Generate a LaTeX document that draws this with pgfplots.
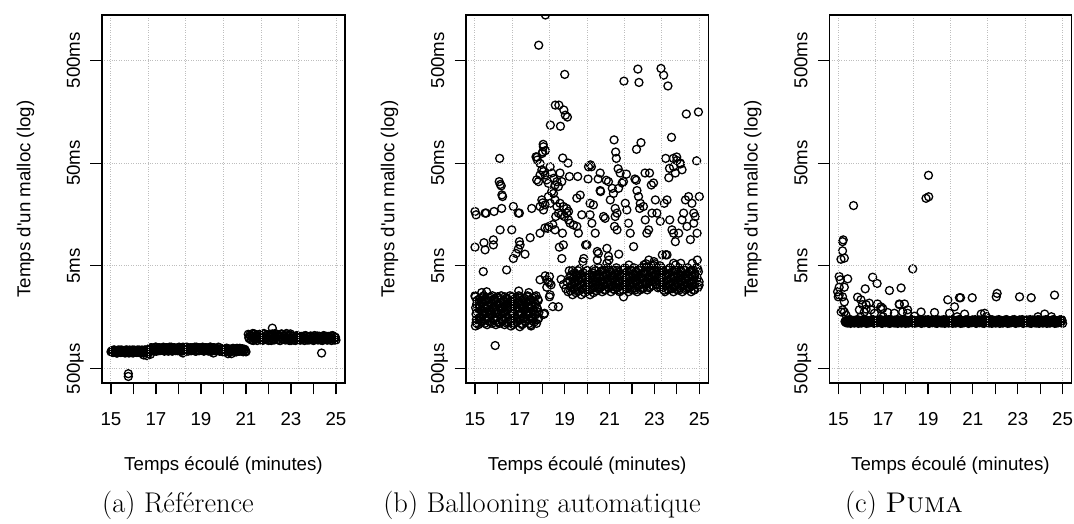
\documentclass[border=0pt]{standalone}
\usepackage{fontspec}
\usepackage{pgfplots}
\pgfplotsset{compat=1.18}
\newfontfamily\axff{Liberation Sans}
\newcommand\axfont{\axff\fontsize{18.7}{22}\selectfont}
\newcommand\capfont{\rmfamily\fontsize{28.5}{32}\selectfont}
\definecolor{rlg}{HTML}{BEBEBE}
\pgfplotsset{rpanel/.style={
 scale only axis, height=368pt,
 xmin=14.6, xmax=25.4,
 ymin=0.363, ymax=1377,
 xtick={15,16,...,25},
 xticklabels={15,,17,,19,,21,,23,,25},
 ytick={0.5,5,50,500},
 yticklabels={500µs,5ms,50ms,500ms},
 minor xtick={15,16.6667,18.3333,20,21.6667,23.3333,25},
 yminorticks=false,
 xminorgrids=true, ymajorgrids=true, xmajorgrids=false,
 minor tick length=0pt,
 major grid style={rlg, dotted, line width=1pt},
 minor grid style={rlg, dotted, line width=1pt},
 tick align=outside, tick pos=left,
 major tick length=11.5pt,
 tick style={black, line width=1.1pt},
 axis line style={line width=1.1pt},
 axis on top,
 clip marker paths=true,
 tick label style={font=\axfont},
 xticklabel style={anchor=base, inner sep=0pt},
 xticklabel shift=31.2pt,
 yticklabel style={rotate=90, anchor=base, inner sep=0pt},
 yticklabel shift=10.5pt,
 xlabel={Temps écoulé (minutes)},
 ylabel={Temps d'un malloc (log)},
 label style={font=\axfont, inner sep=0pt},
 xlabel style={at={([yshift=-87pt]axis description cs:0.5,0)}, anchor=base},
 ylabel style={at={([xshift=-71.7pt]axis description cs:0,0.5)}, anchor=base},
},
rmark/.style={only marks, draw=black, fill=none, mark=o, mark size=4.0pt, mark options={line width=1.3pt, draw=black, fill=none, solid}}
}
\begin{document}
\begin{tikzpicture}
\path[use as bounding box] (0,0) rectangle (1074pt,523pt);
% ---------------- (a) Reference ----------------
\begin{semilogyaxis}[rpanel, width=243pt, at={(102pt,140pt)}, anchor=south west]
\addplot[rmark] coordinates {
(15.00,0.73)(15.05,0.75)(15.10,0.72)(15.15,0.76)(15.20,0.74)(15.25,0.71)(15.30,0.75)(15.35,0.73)(15.40,0.76)(15.45,0.72)(15.50,0.74)
(15.55,0.73)(15.60,0.75)(15.65,0.72)(15.70,0.76)(15.75,0.74)(15.80,0.71)(15.85,0.75)(15.90,0.73)(15.95,0.76)(16.00,0.72)(16.05,0.74)
(16.10,0.73)(16.15,0.75)(16.20,0.72)(16.25,0.76)(16.30,0.74)(16.35,0.71)(16.40,0.75)(16.45,0.73)(16.50,0.76)(16.55,0.72)(16.60,0.74)(16.65,0.73)
(16.70,0.78)(16.75,0.75)(16.80,0.80)(16.85,0.76)(16.90,0.79)(16.95,0.74)(17.00,0.81)(17.05,0.77)(17.10,0.75)(17.15,0.80)(17.20,0.78)(17.25,0.76)
(17.30,0.78)(17.35,0.75)(17.40,0.80)(17.45,0.76)(17.50,0.79)(17.55,0.74)(17.60,0.81)(17.65,0.77)(17.70,0.75)(17.75,0.80)(17.80,0.78)(17.85,0.76)
(17.90,0.78)(17.95,0.75)(18.00,0.80)(18.05,0.76)(18.10,0.79)(18.15,0.74)(18.20,0.81)(18.25,0.77)(18.30,0.75)(18.35,0.80)(18.40,0.78)(18.45,0.76)
(18.50,0.78)(18.55,0.75)(18.60,0.80)(18.65,0.76)(18.70,0.79)(18.75,0.74)(18.80,0.81)(18.85,0.77)(18.90,0.75)(18.95,0.80)(19.00,0.78)(19.05,0.76)
(19.10,0.78)(19.15,0.75)(19.20,0.80)(19.25,0.76)(19.30,0.79)(19.35,0.74)(19.40,0.81)(19.45,0.77)(19.50,0.75)(19.55,0.80)(19.60,0.78)(19.65,0.76)
(19.70,0.78)(19.75,0.75)(19.80,0.80)
(19.85,0.76)(19.90,0.74)(19.95,0.78)(20.00,0.75)(20.05,0.77)(20.10,0.73)(20.15,0.79)(20.20,0.75)(20.25,0.74)
(20.30,0.76)(20.35,0.74)(20.40,0.78)(20.45,0.75)(20.50,0.77)(20.55,0.73)(20.60,0.79)(20.65,0.75)(20.70,0.74)
(20.75,0.76)(20.80,0.74)(20.85,0.78)(20.90,0.75)(20.95,0.77)(21.00,0.73)
(16.45,0.68)(16.60,0.67)(16.75,0.69)(18.20,0.71)(19.55,0.71)(20.20,0.70)(20.35,0.70)
(21.10,1.08)(21.15,0.98)(21.20,1.04)(21.25,0.95)(21.30,1.10)(21.35,1.00)(21.40,0.96)(21.45,1.06)(21.50,0.94)(21.55,1.02)
(21.60,1.08)(21.65,0.98)(21.70,1.04)(21.75,0.95)(21.80,1.10)(21.85,1.00)(21.90,0.96)(21.95,1.06)(22.00,0.94)(22.05,1.02)
(22.10,1.08)(22.15,0.98)(22.20,1.04)(22.25,0.95)(22.30,1.10)(22.35,1.00)(22.40,0.96)(22.45,1.06)(22.50,0.94)(22.55,1.02)
(22.60,1.08)(22.65,0.98)(22.70,1.04)(22.75,0.95)(22.80,1.10)(22.85,1.00)(22.90,0.96)(22.95,1.06)(23.00,0.94)
(23.05,1.03)(23.10,0.96)(23.15,1.00)(23.20,0.94)(23.25,1.05)(23.30,0.97)(23.35,1.01)(23.40,0.95)
(23.45,1.03)(23.50,0.96)(23.55,1.00)(23.60,0.94)(23.65,1.05)(23.70,0.97)(23.75,1.01)(23.80,0.95)
(23.85,1.03)(23.90,0.96)(23.95,1.00)(24.00,0.94)(24.05,1.05)(24.10,0.97)(24.15,1.01)(24.20,0.95)
(24.25,1.03)(24.30,0.96)(24.35,1.00)(24.40,0.94)(24.45,1.05)(24.50,0.97)(24.55,1.01)(24.60,0.95)
(24.65,1.03)(24.70,0.96)(24.75,1.00)(24.80,0.94)(24.85,1.05)(24.90,0.97)(24.95,1.01)(25.00,0.95)
(22.17,1.24)(24.36,0.71)(15.77,0.447)(15.77,0.42)
(15.025,0.74)(15.075,0.72)(15.125,0.76)(15.175,0.73)(15.225,0.75)(15.275,0.71)(15.325,0.76)
(15.375,0.74)(15.425,0.72)(15.475,0.76)(15.525,0.73)(15.575,0.75)(15.625,0.71)(15.675,0.76)
(15.725,0.74)(15.775,0.72)(15.825,0.76)(15.875,0.73)(15.925,0.75)(15.975,0.71)(16.025,0.76)
(16.075,0.74)(16.125,0.72)(16.175,0.76)(16.225,0.73)(16.275,0.75)(16.325,0.71)(16.375,0.76)
(16.425,0.74)(16.475,0.72)(16.525,0.76)(16.575,0.73)(16.625,0.75)(16.675,0.71)
(16.725,0.77)(16.775,0.80)(16.825,0.75)(16.875,0.79)(16.925,0.76)(16.975,0.81)(17.025,0.74)
(17.075,0.77)(17.125,0.80)(17.175,0.75)(17.225,0.79)(17.275,0.76)(17.325,0.81)(17.375,0.74)
(17.425,0.77)(17.475,0.80)(17.525,0.75)(17.575,0.79)(17.625,0.76)(17.675,0.81)(17.725,0.74)
(17.775,0.77)(17.825,0.80)(17.875,0.75)(17.925,0.79)(17.975,0.76)(18.025,0.81)(18.075,0.74)
(18.125,0.77)(18.175,0.80)(18.225,0.75)(18.275,0.79)(18.325,0.76)(18.375,0.81)(18.425,0.74)
(18.475,0.77)(18.525,0.80)(18.575,0.75)(18.625,0.79)(18.675,0.76)(18.725,0.81)(18.775,0.74)
(18.825,0.77)(18.875,0.80)(18.925,0.75)(18.975,0.79)(19.025,0.76)(19.075,0.81)(19.125,0.74)
(19.175,0.77)(19.225,0.80)(19.275,0.75)(19.325,0.79)(19.375,0.76)(19.425,0.81)(19.475,0.74)
(19.525,0.77)(19.575,0.80)(19.625,0.75)(19.675,0.79)(19.725,0.76)(19.775,0.81)(19.825,0.74)
(19.875,0.75)(19.925,0.78)(19.975,0.73)(20.025,0.77)(20.075,0.74)(20.125,0.79)
(20.175,0.75)(20.225,0.78)(20.275,0.73)(20.325,0.77)(20.375,0.74)(20.425,0.79)
(20.475,0.75)(20.525,0.78)(20.575,0.73)(20.625,0.77)(20.675,0.74)(20.725,0.79)
(20.775,0.75)(20.825,0.78)(20.875,0.73)(20.925,0.77)(20.975,0.74)
(21.125,1.00)(21.175,1.07)(21.225,0.96)(21.275,1.03)(21.325,0.94)(21.375,1.09)(21.425,0.98)(21.475,1.05)
(21.525,1.00)(21.575,1.07)(21.625,0.96)(21.675,1.03)(21.725,0.94)(21.775,1.09)(21.825,0.98)(21.875,1.05)
(21.925,1.00)(21.975,1.07)(22.025,0.96)(22.075,1.03)(22.125,0.94)(22.175,1.09)(22.225,0.98)(22.275,1.05)
(22.325,1.00)(22.375,1.07)(22.425,0.96)(22.475,1.03)(22.525,0.94)(22.575,1.09)(22.625,0.98)(22.675,1.05)
(22.725,1.00)(22.775,1.07)(22.825,0.96)(22.875,1.03)(22.925,0.94)(22.975,1.09)
(23.025,0.99)(23.075,1.03)(23.125,0.95)(23.175,1.01)(23.225,0.97)(23.275,1.04)
(23.325,0.99)(23.375,1.03)(23.425,0.95)(23.475,1.01)(23.525,0.97)(23.575,1.04)
(23.625,0.99)(23.675,1.03)(23.725,0.95)(23.775,1.01)(23.825,0.97)(23.875,1.04)
(23.925,0.99)(23.975,1.03)(24.025,0.95)(24.075,1.01)(24.125,0.97)(24.175,1.04)
(24.225,0.99)(24.275,1.03)(24.325,0.95)(24.375,1.01)(24.425,0.97)(24.475,1.04)
(24.525,0.99)(24.575,1.03)(24.625,0.95)(24.675,1.01)(24.725,0.97)(24.775,1.04)
(24.825,0.99)(24.875,1.03)(24.925,0.95)(24.975,1.01)
};
\end{semilogyaxis}
% ---------------- (b) Ballooning ----------------
\begin{semilogyaxis}[rpanel, width=242.3pt, at={(466pt,140pt)}, anchor=south west]
\addplot[rmark] coordinates {
(15.00,2.56)(15.03,1.96)(15.06,1.50)(15.09,2.30)(15.12,1.76)(15.15,1.34)(15.18,2.07)(15.21,1.58)(15.24,2.43)(15.27,1.86)(15.30,1.42)(15.33,2.18)(15.36,1.67)
(15.39,2.56)(15.42,1.96)(15.45,1.50)(15.48,2.30)(15.51,1.76)(15.54,1.34)(15.57,2.07)(15.60,1.58)(15.63,2.43)(15.66,1.86)(15.69,1.42)(15.72,2.18)(15.75,1.67)
(15.78,2.56)(15.81,1.96)(15.84,1.50)(15.87,2.30)(15.90,1.76)(15.93,1.34)(15.96,2.07)(15.99,1.58)(16.02,2.43)(16.05,1.86)(16.08,1.42)(16.11,2.18)(16.14,1.67)
(16.17,2.56)(16.20,1.96)(16.23,1.50)(16.26,2.30)(16.29,1.76)(16.32,1.34)(16.35,2.07)(16.38,1.58)(16.41,2.43)(16.44,1.86)(16.47,1.42)(16.50,2.18)(16.53,1.67)
(16.56,2.56)(16.59,1.96)(16.62,1.50)(16.65,2.30)(16.68,1.76)(16.71,1.34)(16.74,2.07)(16.77,1.58)(16.80,2.43)(16.83,1.86)(16.86,1.42)(16.89,2.18)(16.92,1.67)
(16.95,2.56)(16.98,1.96)(17.01,1.50)(17.04,2.30)(17.07,1.76)(17.10,1.34)(17.13,2.07)(17.16,1.58)(17.19,2.43)(17.22,1.86)(17.25,1.42)(17.28,2.18)(17.31,1.67)
(17.34,2.56)(17.37,1.96)(17.40,1.50)(17.43,2.30)(17.46,1.76)(17.49,1.34)(17.52,2.07)(17.55,1.58)(17.58,2.43)(17.61,1.86)(17.64,1.42)(17.67,2.18)(17.70,1.67)
(17.73,2.56)(17.76,1.96)(17.79,1.50)(17.82,2.30)(17.85,1.76)
(15.30,2.75)(15.52,2.80)(16.95,2.85)(17.40,2.75)(15.02,1.30)(15.05,1.40)(16.60,1.30)(17.00,1.28)(17.50,1.30)
(15.015,2.50)(15.045,1.70)(15.075,2.12)(15.105,1.38)(15.135,1.92)(15.165,2.36)(15.195,1.54)(15.225,2.00)(15.255,1.46)(15.285,2.24)(15.315,1.80)
(15.345,2.50)(15.375,1.70)(15.405,2.12)(15.435,1.38)(15.465,1.92)(15.495,2.36)(15.525,1.54)(15.555,2.00)(15.585,1.46)(15.615,2.24)(15.645,1.80)
(15.675,2.50)(15.705,1.70)(15.735,2.12)(15.765,1.38)(15.795,1.92)(15.825,2.36)(15.855,1.54)(15.885,2.00)(15.915,1.46)(15.945,2.24)(15.975,1.80)
(16.005,2.50)(16.035,1.70)(16.065,2.12)(16.095,1.38)(16.125,1.92)(16.155,2.36)(16.185,1.54)(16.215,2.00)(16.245,1.46)(16.275,2.24)(16.305,1.80)
(16.335,2.50)(16.365,1.70)(16.395,2.12)(16.425,1.38)(16.455,1.92)(16.485,2.36)(16.515,1.54)(16.545,2.00)(16.575,1.46)(16.605,2.24)(16.635,1.80)
(16.665,2.50)(16.695,1.70)(16.725,2.12)(16.755,1.38)(16.785,1.92)(16.815,2.36)(16.845,1.54)(16.875,2.00)(16.905,1.46)(16.935,2.24)(16.965,1.80)
(16.995,2.50)(17.025,1.70)(17.055,2.12)(17.085,1.38)(17.115,1.92)(17.145,2.36)(17.175,1.54)(17.205,2.00)(17.235,1.46)(17.265,2.24)(17.295,1.80)
(17.325,2.50)(17.355,1.70)(17.385,2.12)(17.415,1.38)(17.445,1.92)(17.475,2.36)(17.505,1.54)(17.535,2.00)(17.565,1.46)(17.595,2.24)(17.625,1.80)
(17.655,2.50)(17.685,1.70)(17.715,2.12)(17.745,1.38)(17.775,1.92)(17.805,2.36)(17.835,1.54)
(19.20,4.48)(19.23,3.58)(19.26,2.86)(19.29,4.10)(19.32,3.27)(19.35,2.62)(19.38,3.75)(19.41,2.99)(19.44,4.28)(19.47,3.42)(19.50,2.74)(19.53,3.92)(19.56,3.13)
(19.59,4.48)(19.62,3.58)(19.65,2.86)(19.68,4.10)(19.71,3.27)(19.74,2.62)(19.77,3.75)(19.80,2.99)(19.83,4.28)(19.86,3.42)(19.89,2.74)(19.92,3.92)(19.95,3.13)
(19.98,4.48)(20.01,3.58)(20.04,2.86)(20.07,4.10)(20.10,3.27)(20.13,2.62)(20.16,3.75)(20.19,2.99)(20.22,4.28)(20.25,3.42)(20.28,2.74)(20.31,3.92)(20.34,3.13)
(20.37,4.48)(20.40,3.58)(20.43,2.86)(20.46,4.10)(20.49,3.27)
(20.52,4.79)(20.55,3.83)(20.58,3.06)(20.61,4.38)(20.64,3.50)(20.67,2.80)(20.70,4.01)(20.73,3.20)(20.76,4.58)(20.79,3.66)(20.82,2.93)(20.85,4.19)(20.88,3.35)
(20.91,4.79)(20.94,3.83)(20.97,3.06)(21.00,4.38)(21.03,3.50)(21.06,2.80)(21.09,4.01)(21.12,3.20)(21.15,4.58)(21.18,3.66)(21.21,2.93)(21.24,4.19)(21.27,3.35)
(21.30,4.79)(21.33,3.83)(21.36,3.06)(21.39,4.38)(21.42,3.50)(21.45,2.80)(21.48,4.01)(21.51,3.20)(21.54,4.58)(21.57,3.66)(21.60,2.93)(21.63,4.19)(21.66,3.35)
(21.69,4.79)(21.72,3.83)(21.75,3.06)(21.78,4.38)(21.81,3.50)(21.84,2.80)(21.87,4.01)(21.90,3.20)(21.93,4.58)(21.96,3.66)(21.99,2.93)(22.02,4.19)(22.05,3.35)
(22.08,4.79)(22.11,3.83)(22.14,3.06)(22.17,4.38)(22.20,3.50)(22.23,2.80)(22.26,4.01)(22.29,3.20)(22.32,4.58)(22.35,3.66)(22.38,2.93)(22.41,4.19)(22.44,3.35)
(22.47,4.79)(22.50,3.83)(22.53,3.06)(22.56,4.38)(22.59,3.50)
(22.62,5.24)(22.65,4.19)(22.68,3.35)(22.71,4.79)(22.74,3.83)(22.77,3.06)(22.80,4.39)(22.83,3.50)(22.86,5.01)(22.89,4.00)(22.92,3.21)(22.95,4.58)(22.98,3.66)
(23.01,5.24)(23.04,4.19)(23.07,3.35)(23.10,4.79)(23.13,3.83)(23.16,3.06)(23.19,4.39)(23.22,3.50)(23.25,5.01)(23.28,4.00)
(23.31,4.79)(23.34,3.83)(23.37,3.06)(23.40,4.38)(23.43,3.50)(23.46,2.80)(23.49,4.01)(23.52,3.20)(23.55,4.58)(23.58,3.66)(23.61,2.93)(23.64,4.19)(23.67,3.35)
(23.70,4.79)(23.73,3.83)(23.76,3.06)(23.79,4.38)(23.82,3.50)(23.85,2.80)(23.88,4.01)(23.91,3.20)(23.94,4.58)(23.97,3.66)(24.00,2.93)(24.03,4.19)(24.06,3.35)
(24.09,4.79)(24.12,3.83)(24.15,3.06)(24.18,4.38)(24.21,3.50)(24.24,2.80)(24.27,4.01)(24.30,3.20)(24.33,4.58)(24.36,3.66)(24.39,2.93)(24.42,4.19)(24.45,3.35)
(24.48,4.79)(24.51,3.83)(24.54,3.06)(24.57,4.38)(24.60,3.50)(24.63,2.80)(24.66,4.01)(24.69,3.20)(24.72,4.58)(24.75,3.66)(24.78,2.93)(24.81,4.19)(24.84,3.35)
(24.87,4.79)(24.90,3.83)(24.93,3.06)(24.96,4.38)(24.99,3.50)
(19.23,3.95)(19.29,3.10)(19.35,4.50)(19.41,3.40)(19.47,2.90)(19.53,4.10)(19.59,3.60)(19.65,4.65)(19.71,3.25)(19.77,3.80)(19.83,3.00)
(19.89,3.95)(19.95,3.10)(20.01,4.50)(20.07,3.40)(20.13,2.90)(20.19,4.10)(20.25,3.60)(20.31,4.65)(20.37,3.25)(20.43,3.80)(20.49,3.00)
(20.55,3.95)(20.61,3.10)(20.67,4.50)(20.73,3.40)(20.79,2.90)(20.85,4.10)(20.91,3.60)(20.97,4.65)(21.03,3.25)(21.09,3.80)(21.15,3.00)
(21.21,3.95)(21.27,3.10)(21.33,4.50)(21.39,3.40)(21.45,2.90)(21.51,4.10)(21.57,3.60)(21.63,4.65)(21.69,3.25)(21.75,3.80)(21.81,3.00)
(21.87,3.95)(21.93,3.10)(21.99,4.50)(22.05,3.40)(22.11,2.90)(22.17,4.10)(22.23,3.60)(22.29,4.65)(22.35,3.25)(22.41,3.80)(22.47,3.00)
(22.53,4.30)(22.59,3.38)(22.65,4.90)(22.71,3.70)(22.77,3.16)(22.83,4.47)(22.89,3.92)(22.95,5.07)(23.01,3.54)(23.07,4.14)(23.13,3.27)
(23.19,3.95)(23.25,3.10)(23.31,4.50)(23.37,3.40)(23.43,2.90)(23.49,4.10)(23.55,3.60)(23.61,4.65)(23.67,3.25)(23.73,3.80)(23.79,3.00)
(23.85,3.95)(23.91,3.10)(23.97,4.50)(24.03,3.40)(24.09,2.90)(24.15,4.10)(24.21,3.60)(24.27,4.65)(24.33,3.25)(24.39,3.80)(24.45,3.00)
(24.51,3.95)(24.57,3.10)(24.63,4.50)(24.69,3.40)(24.75,2.90)(24.81,4.10)(24.87,3.60)(24.93,4.65)(24.99,3.25)
(18.14,1377)(17.84,700)(19.00,364)(21.64,313)(22.26,410)(22.31,304)(23.29,416)(23.41,358)(23.60,281)(18.58,183)(18.74,183)(18.96,164)(19.03,146)(19.12,140)
(18.36,117)(18.81,114)(24.42,150)(24.96,157)(23.76,89)(21.20,84)(22.40,79)(22.20,68)(18.04,76)
(16.10,55.5)(21.27,64)(21.30,55.5)(23.50,55.5)(23.84,55.5)(23.99,57.3)(24.88,52.6)(24.16,49)(23.67,44.4)(23.64,36)(17.77,57)(17.99,62)(18.14,66)(18.91,56)
(19.15,50)(20.15,48)(20.19,46)(21.38,44)(21.75,39)(22.13,35)(22.19,34)(22.58,40)(22.78,40)(22.86,30.6)(19.21,37)(19.58,37)(20.04,35)(20.49,35)(20.85,34)
(21.12,28.4)(21.56,32)(20.60,26.4)(16.08,33)(16.13,31)(16.17,30)(16.20,24.5)
(15.00,16.9)(15.05,15.7)(15.45,16.3)(15.50,16.3)(15.85,16.9)(16.71,18.9)(16.93,16.3)(16.98,16.3)(16.19,18.1)(16.23,23.6)(17.53,18.1)(17.90,18.9)(18.02,20.5)
(15.00,7.6)(15.40,8.4)(15.45,7.16)(15.82,8.95)(15.82,8.0)(15.37,4.4)(16.12,11.2)(16.41,4.57)(16.64,11.2)(16.71,5.9)(16.83,6.6)(16.93,7.3)(17.01,8.0)(16.98,8.6)
(17.23,6.5)(17.46,9.4)(17.90,10.4)(18.24,11.6)
(17.90,3.66)(18.20,3.66)(18.32,3.94)(18.32,3.4)(18.35,2.61)(18.47,2.01)(18.10,1.73)(18.72,2.0)(18.13,4.0)(18.27,3.5)(18.39,3.27)(18.20,3.1)
(18.84,3.7)(18.90,10.4)(18.94,8.0)(18.87,5.9)(18.76,7.6)(18.12,11.7)(18.30,12.1)(18.47,12.6)(18.57,11.2)
(18.60,15.1)(18.72,16.3)(18.84,15.7)(18.99,15.1)(19.09,16.3)(19.17,14.0)(19.24,13.0)(19.39,12.5)(19.54,12.1)(19.61,10.4)
(19.54,22.8)(19.69,24.4)(20.13,20.3)(20.28,19.6)(19.76,15.7)(20.13,15.7)(20.21,13.0)(20.36,10.4)(20.73,15.1)(20.80,14.5)
(19.99,8.0)(20.50,6.6)(20.88,7.4)(20.95,6.2)(20.88,5.3)(20.58,27)(20.95,33)(21.03,21.9)(21.17,25.3)(21.40,28.4)
(21.33,16.3)(21.25,18.1)(21.25,15.1)(21.22,12.1)(21.33,11.2)(21.62,33)(21.70,20.3)(21.77,17.5)(21.84,13.0)(21.92,10.4)(22.07,7.7)
(22.22,27)(22.29,23.6)(22.37,20.3)(22.34,18.1)(22.51,18.9)(22.59,14.0)(22.66,10.4)(22.74,11.2)(22.89,16.3)
(22.96,32)(23.04,21.9)(23.11,16.3)(23.26,13.6)(23.44,20.3)(23.56,21.9)(23.68,14.0)(23.78,11.2)(23.85,10.4)(23.56,6.4)(23.85,5.3)
(23.93,8.6)(24.08,10.4)(24.23,14.0)(24.30,16.3)(24.38,21.9)(24.52,23.6)(24.67,20.3)(24.75,16.3)(24.82,15.1)(24.90,10.4)(25.00,23.6)(24.60,9.0)(24.45,12.1)(24.75,13.0)
(24.00,53)(24.15,50)(23.85,46)(23.93,40)(24.23,43)(21.47,40)(20.58,40)(20.06,46)
(17.72,57.5)(17.78,53.5)(17.90,49.6)(18.05,72)(18.02,64)(17.75,34.3)(17.83,33)(17.90,38.3)(17.98,42.9)(18.05,41.3)(18.13,38.3)(18.20,34.3)(18.27,31.8)
(18.35,46)(18.42,40)(18.50,35.5)(18.57,30.6)(18.65,33)(18.72,29.6)(18.79,40)(18.87,33)(18.42,26.4)(18.50,25.3)(18.57,21.9)(18.65,18.9)(18.79,20.3)
(18.94,18.9)(19.09,18.1)(19.17,16.9)(18.27,23.6)(18.35,20.3)(17.98,21.9)(18.13,19.6)(18.05,17.5)
(19.93,8.0)(20.45,6.9)(21.41,6.5)(20.45,5.7)(19.85,5.9)(19.81,5.5)(20.97,5.7)(21.86,5.1)(22.75,5.7)(23.50,6.4)(23.35,6.4)(22.98,5.5)(24.91,5.7)(24.69,5.3)
(22.53,5.1)(23.94,5.1)(24.17,5.3)
(15.90,0.84)(18.07,1.69)(18.32,2.5)(21.62,2.5)(22.68,2.92)(19.15,2.8)(18.95,3.3)(19.05,3.0)(19.10,3.5)
};
\end{semilogyaxis}
% ---------------- (c) Puma ----------------
\begin{semilogyaxis}[rpanel, width=242.3pt, at={(829.3pt,140pt)}, anchor=south west]
\addplot[rmark] coordinates {
(15.30,1.44)(15.35,1.40)(15.40,1.48)(15.45,1.42)(15.50,1.50)(15.55,1.38)(15.60,1.46)
(15.65,1.44)(15.70,1.40)(15.75,1.48)(15.80,1.42)(15.85,1.50)(15.90,1.38)(15.95,1.46)
(16.00,1.44)(16.05,1.40)(16.10,1.48)(16.15,1.42)(16.20,1.50)(16.25,1.38)(16.30,1.46)
(16.35,1.44)(16.40,1.40)(16.45,1.48)(16.50,1.42)(16.55,1.50)(16.60,1.38)(16.65,1.46)
(16.70,1.44)(16.75,1.40)(16.80,1.48)(16.85,1.42)(16.90,1.50)(16.95,1.38)(17.00,1.46)
(17.05,1.44)(17.10,1.40)(17.15,1.48)(17.20,1.42)(17.25,1.50)(17.30,1.38)(17.35,1.46)
(17.40,1.44)(17.45,1.40)(17.50,1.48)(17.55,1.42)(17.60,1.50)(17.65,1.38)(17.70,1.46)
(17.75,1.44)(17.80,1.40)(17.85,1.48)(17.90,1.42)(17.95,1.50)(18.00,1.38)(18.05,1.46)
(18.10,1.44)(18.15,1.40)(18.20,1.48)(18.25,1.42)(18.30,1.50)(18.35,1.38)(18.40,1.46)
(18.45,1.44)(18.50,1.40)(18.55,1.48)(18.60,1.42)(18.65,1.50)(18.70,1.38)(18.75,1.46)
(18.80,1.44)(18.85,1.40)(18.90,1.48)(18.95,1.42)(19.00,1.50)(19.05,1.38)(19.10,1.46)
(19.15,1.44)(19.20,1.40)(19.25,1.48)(19.30,1.42)(19.35,1.50)(19.40,1.38)(19.45,1.46)
(19.50,1.44)(19.55,1.40)(19.60,1.48)(19.65,1.42)(19.70,1.50)(19.75,1.38)(19.80,1.46)
(19.85,1.44)(19.90,1.40)(19.95,1.48)(20.00,1.42)(20.05,1.50)(20.10,1.38)(20.15,1.46)
(20.20,1.44)(20.25,1.40)(20.30,1.48)(20.35,1.42)(20.40,1.50)(20.45,1.38)(20.50,1.46)
(20.55,1.44)(20.60,1.40)(20.65,1.48)(20.70,1.42)(20.75,1.50)(20.80,1.38)(20.85,1.46)
(20.90,1.44)(20.95,1.40)(21.00,1.48)(21.05,1.42)(21.10,1.50)(21.15,1.38)(21.20,1.46)
(21.25,1.44)(21.30,1.40)(21.35,1.48)(21.40,1.42)(21.45,1.50)(21.50,1.38)(21.55,1.46)
(21.60,1.44)(21.65,1.40)(21.70,1.48)(21.75,1.42)(21.80,1.50)(21.85,1.38)(21.90,1.46)
(21.95,1.44)(22.00,1.40)(22.05,1.48)(22.10,1.42)(22.15,1.50)(22.20,1.38)(22.25,1.46)
(22.30,1.44)(22.35,1.40)(22.40,1.48)(22.45,1.42)(22.50,1.50)(22.55,1.38)(22.60,1.46)
(22.65,1.44)(22.70,1.40)(22.75,1.48)(22.80,1.42)(22.85,1.50)(22.90,1.38)(22.95,1.46)
(23.00,1.44)(23.05,1.40)(23.10,1.48)(23.15,1.42)(23.20,1.50)(23.25,1.38)(23.30,1.46)
(23.35,1.44)(23.40,1.40)(23.45,1.48)(23.50,1.42)(23.55,1.50)(23.60,1.38)(23.65,1.46)
(23.70,1.44)(23.75,1.40)(23.80,1.48)(23.85,1.42)(23.90,1.50)(23.95,1.38)(24.00,1.46)
(24.05,1.44)(24.10,1.40)(24.15,1.48)(24.20,1.42)(24.25,1.50)(24.30,1.38)(24.35,1.46)
(24.40,1.44)(24.45,1.40)(24.50,1.48)(24.55,1.42)(24.60,1.50)(24.65,1.38)(24.70,1.46)
(24.75,1.44)(24.80,1.40)(24.85,1.48)(24.90,1.42)(24.95,1.50)(25.00,1.38)
(15.325,1.42)(15.375,1.47)(15.425,1.39)(15.475,1.45)(15.525,1.41)(15.575,1.49)
(15.625,1.42)(15.675,1.47)(15.725,1.39)(15.775,1.45)(15.825,1.41)(15.875,1.49)
(15.925,1.42)(15.975,1.47)(16.025,1.39)(16.075,1.45)(16.125,1.41)(16.175,1.49)
(16.225,1.42)(16.275,1.47)(16.325,1.39)(16.375,1.45)(16.425,1.41)(16.475,1.49)
(16.525,1.42)(16.575,1.47)(16.625,1.39)(16.675,1.45)(16.725,1.41)(16.775,1.49)
(16.825,1.42)(16.875,1.47)(16.925,1.39)(16.975,1.45)(17.025,1.41)(17.075,1.49)
(17.125,1.42)(17.175,1.47)(17.225,1.39)(17.275,1.45)(17.325,1.41)(17.375,1.49)
(17.425,1.42)(17.475,1.47)(17.525,1.39)(17.575,1.45)(17.625,1.41)(17.675,1.49)
(17.725,1.42)(17.775,1.47)(17.825,1.39)(17.875,1.45)(17.925,1.41)(17.975,1.49)
(18.025,1.42)(18.075,1.47)(18.125,1.39)(18.175,1.45)(18.225,1.41)(18.275,1.49)
(18.325,1.42)(18.375,1.47)(18.425,1.39)(18.475,1.45)(18.525,1.41)(18.575,1.49)
(18.625,1.42)(18.675,1.47)(18.725,1.39)(18.775,1.45)(18.825,1.41)(18.875,1.49)
(18.925,1.42)(18.975,1.47)(19.025,1.39)(19.075,1.45)(19.125,1.41)(19.175,1.49)
(19.225,1.42)(19.275,1.47)(19.325,1.39)(19.375,1.45)(19.425,1.41)(19.475,1.49)
(19.525,1.42)(19.575,1.47)(19.625,1.39)(19.675,1.45)(19.725,1.41)(19.775,1.49)
(19.825,1.42)(19.875,1.47)(19.925,1.39)(19.975,1.45)(20.025,1.41)(20.075,1.49)
(20.125,1.42)(20.175,1.47)(20.225,1.39)(20.275,1.45)(20.325,1.41)(20.375,1.49)
(20.425,1.42)(20.475,1.47)(20.525,1.39)(20.575,1.45)(20.625,1.41)(20.675,1.49)
(20.725,1.42)(20.775,1.47)(20.825,1.39)(20.875,1.45)(20.925,1.41)(20.975,1.49)
(21.025,1.42)(21.075,1.47)(21.125,1.39)(21.175,1.45)(21.225,1.41)(21.275,1.49)
(21.325,1.42)(21.375,1.47)(21.425,1.39)(21.475,1.45)(21.525,1.41)(21.575,1.49)
(21.625,1.42)(21.675,1.47)(21.725,1.39)(21.775,1.45)(21.825,1.41)(21.875,1.49)
(21.925,1.42)(21.975,1.47)(22.025,1.39)(22.075,1.45)(22.125,1.41)(22.175,1.49)
(22.225,1.42)(22.275,1.47)(22.325,1.39)(22.375,1.45)(22.425,1.41)(22.475,1.49)
(22.525,1.42)(22.575,1.47)(22.625,1.39)(22.675,1.45)(22.725,1.41)(22.775,1.49)
(22.825,1.42)(22.875,1.47)(22.925,1.39)(22.975,1.45)(23.025,1.41)(23.075,1.49)
(23.125,1.42)(23.175,1.47)(23.225,1.39)(23.275,1.45)(23.325,1.41)(23.375,1.49)
(23.425,1.42)(23.475,1.47)(23.525,1.39)(23.575,1.45)(23.625,1.41)(23.675,1.49)
(23.725,1.42)(23.775,1.47)(23.825,1.39)(23.875,1.45)(23.925,1.41)(23.975,1.49)
(24.025,1.42)(24.075,1.47)(24.125,1.39)(24.175,1.45)(24.225,1.41)(24.275,1.49)
(24.325,1.42)(24.375,1.47)(24.425,1.39)(24.475,1.45)(24.525,1.41)(24.575,1.49)
(24.625,1.42)(24.675,1.47)(24.725,1.39)(24.775,1.45)(24.825,1.41)(24.875,1.49)
(24.925,1.42)(24.975,1.47)
(19.02,38)(18.91,22.7)(19.03,23.5)(15.68,19.3)(15.22,8.95)(15.19,8.6)(15.19,7.0)(15.12,5.8)(15.27,5.95)(18.32,4.67)
(15.04,3.94)(15.09,3.66)(15.42,3.74)(15.04,3.1)(15.27,3.1)(14.97,2.8)(15.04,2.6)(15.19,2.5)(15.00,2.5)(15.27,2.23)(15.27,1.78)
(16.53,3.88)(16.73,3.37)(16.20,2.99)(17.28,2.88)(17.80,3.05)(15.86,2.48)(16.01,2.34)(16.38,2.17)(16.75,2.13)(16.90,2.0)(16.08,2.1)(16.24,1.9)
(17.72,2.13)(17.95,2.13)(19.88,2.34)(20.18,2.0)(20.40,2.45)(20.45,2.45)(20.97,2.45)(22.04,2.5)(22.08,2.7)(23.08,2.5)(23.60,2.45)(24.64,2.6)
(15.94,1.87)(16.16,1.78)(16.46,1.87)(16.61,1.73)(16.90,1.9)(17.20,1.76)(17.50,1.73)(17.87,1.78)(18.09,1.73)(18.69,1.78)(19.29,1.76)(19.96,1.73)
(20.63,1.70)(21.37,1.70)(21.52,1.73)(24.20,1.70)(16.24,2.1)(16.98,1.93)(17.72,2.1)(18.09,1.87)(15.13,1.78)(15.19,1.87)
(15.35,1.65)(16.00,1.60)(17.00,1.60)(18.40,1.62)(20.30,1.60)(21.60,1.60)(23.90,1.60)(24.50,1.60)
};
\end{semilogyaxis}
\node[font=\capfont, anchor=base] at (178pt,10.6pt) {(a) Référence};
\node[font=\capfont, anchor=base] at (542pt,10.6pt) {(b) Ballooning automatique};
\node[font=\capfont, anchor=base] at (904pt,10.6pt) {(c) \textsc{Puma}};
\end{tikzpicture}
\end{document}
